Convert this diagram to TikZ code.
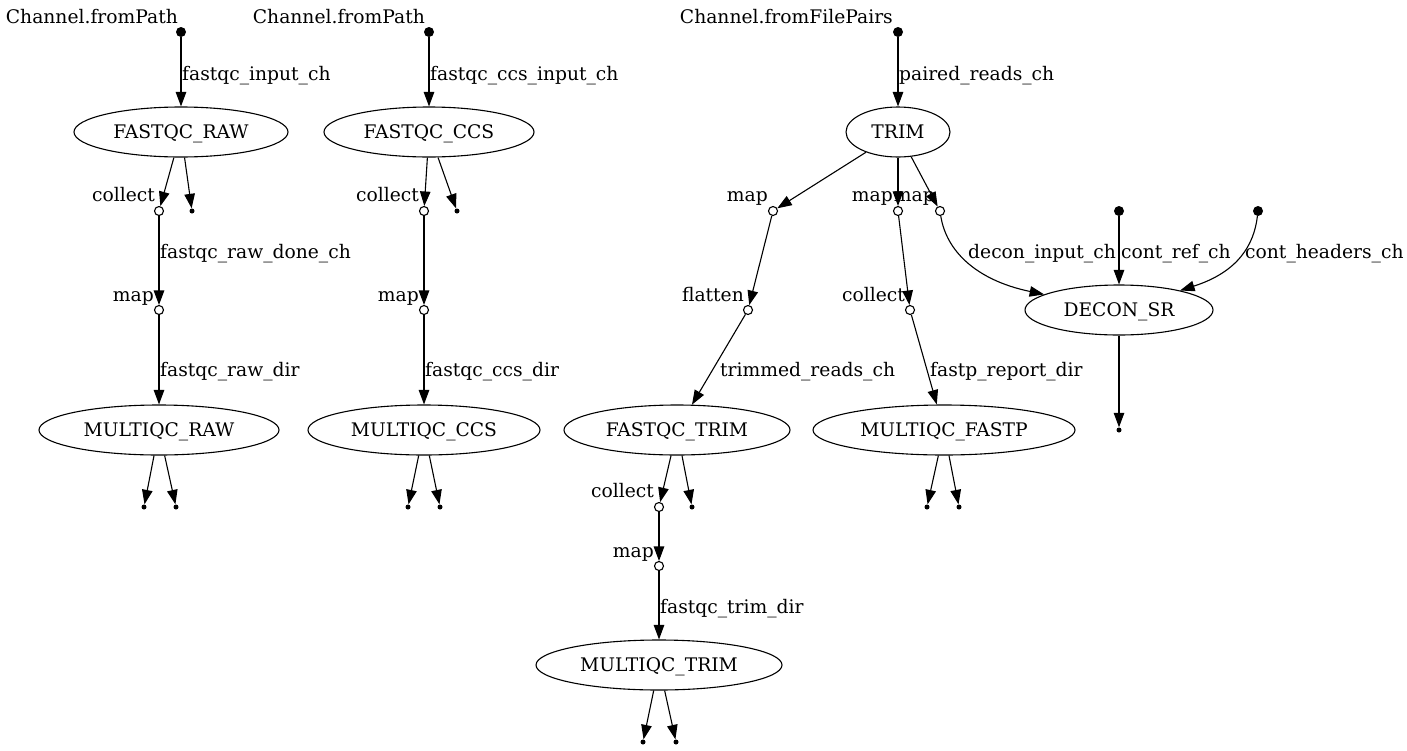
\documentclass[tikz,border=0pt]{standalone}
\usepackage{fontspec}
\setmainfont{DejaVu Serif}
\usetikzlibrary{arrows.meta,shapes.geometric}
\begin{document}
\begin{tikzpicture}[x=1pt,y=-1pt,
  every node/.style={font=\fontsize{18.7}{22}\selectfont},
  proc/.style={draw, ellipse, line width=1.1pt, inner sep=0pt, minimum height=50pt, text height=13.6pt, text depth=0pt},
  srcdot/.style={circle, fill=black, inner sep=0pt, minimum size=10pt},
  opcirc/.style={circle, draw, fill=white, line width=1.1pt, inner sep=0pt, minimum size=9pt},
  enddot/.style={circle, fill=black, inner sep=0pt, minimum size=5pt},
  lbl/.style={inner sep=0pt, anchor=base west},
  xlbl/.style={inner sep=0pt, anchor=base east},
  conn/.style={-{Triangle[length=14.5pt,width=10.5pt]}, line width=1.1pt}
]
\useasboundingbox[fill=white] (0,0) rectangle (1407,750);

% ---------- column 1 ----------
\node[srcdot] (s1) at (181,32) {};
\node[xlbl] (s1l) at (178,23) {Channel.fromPath};
\node[proc, minimum width=214pt] (fqraw) at (181,132) {FASTQC\_RAW};
\node[opcirc] (c1) at (159,211) {};
\node[xlbl] (c1l) at (155,201) {collect};
\node[enddot] (o1) at (192,211) {};
\node[opcirc] (m1) at (159,310) {};
\node[xlbl] (m1l) at (154,301) {map};
\node[proc, minimum width=240pt] (mqraw) at (159,430) {MULTIQC\_RAW};
\node[enddot] (o1a) at (144,507) {};
\node[enddot] (o1b) at (176,507) {};
\node[lbl] (e1) at (182,80) {fastqc\_input\_ch};
\node[lbl] (e2) at (160,258) {fastqc\_raw\_done\_ch};
\node[lbl] (e3) at (160,376) {fastqc\_raw\_dir};
\draw[conn] (s1) -- (fqraw);
\draw[conn] (fqraw) -- (c1);
\draw[conn] (fqraw) -- (o1);
\draw[conn] (c1) -- (m1);
\draw[conn] (m1) -- (mqraw);
\draw[conn] (mqraw) -- (o1a);
\draw[conn] (mqraw) -- (o1b);

% ---------- column 2 ----------
\node[srcdot] (s2) at (429,32) {};
\node[xlbl] (s2l) at (425,23) {Channel.fromPath};
\node[proc, minimum width=210pt] (fqccs) at (429,132) {FASTQC\_CCS};
\node[opcirc] (c2) at (424,211) {};
\node[xlbl] (c2l) at (419,201) {collect};
\node[enddot] (o2) at (457,211) {};
\node[opcirc] (m2) at (424,310) {};
\node[xlbl] (m2l) at (419,301) {map};
\node[proc, minimum width=232pt] (mqccs) at (424,430) {MULTIQC\_CCS};
\node[enddot] (o2a) at (408,507) {};
\node[enddot] (o2b) at (440,507) {};
\node[lbl] (e4) at (430,80) {fastqc\_ccs\_input\_ch};
\node[lbl] (e5) at (425,376) {fastqc\_ccs\_dir};
\draw[conn] (s2) -- (fqccs);
\draw[conn] (fqccs) -- (c2);
\draw[conn] (fqccs) -- (o2);
\draw[conn] (c2) -- (m2);
\draw[conn] (m2) -- (mqccs);
\draw[conn] (mqccs) -- (o2a);
\draw[conn] (mqccs) -- (o2b);

% ---------- column 3 ----------
\node[srcdot] (s3) at (898,32) {};
\node[xlbl] (s3l) at (893,23) {Channel.fromFilePairs};
\node[proc, minimum width=104pt] (trim) at (898,132) {TRIM};
\node[opcirc] (ma) at (773,211) {};
\node[xlbl] (mal) at (768,201) {map};
\node[opcirc] (mb) at (898,211) {};
\node[xlbl] (mbl) at (893,201) {map};
\node[opcirc] (mc) at (940,211) {};
\node[xlbl] (mcl) at (935,201) {map};
\node[srcdot] (ref) at (1119,211) {};
\node[srcdot] (hdr) at (1258,211) {};
\node[opcirc] (fl) at (748,310) {};
\node[xlbl] (fll) at (744,301) {flatten};
\node[opcirc] (c3) at (910,310) {};
\node[xlbl] (c3l) at (905,301) {collect};
\node[proc, minimum width=188pt] (decon) at (1119,310) {DECON\_SR};
\node[enddot] (od) at (1119,430) {};
\node[proc, minimum width=226pt] (fqtrim) at (677,430) {FASTQC\_TRIM};
\node[proc, minimum width=262pt] (mqfastp) at (944,430) {MULTIQC\_FASTP};
\node[opcirc] (c4) at (659,507) {};
\node[xlbl] (c4l) at (654,497) {collect};
\node[enddot] (o4) at (692,507) {};
\node[enddot] (o5a) at (927,507) {};
\node[enddot] (o5b) at (959,507) {};
\node[opcirc] (m4) at (659,566) {};
\node[xlbl] (m4l) at (654,557) {map};
\node[proc, minimum width=246pt] (mqtrim) at (659,665) {MULTIQC\_TRIM};
\node[enddot] (o6a) at (643,742) {};
\node[enddot] (o6b) at (676,742) {};

\node[lbl] (e6) at (899,80) {paired\_reads\_ch};
\node[lbl] (e7) at (968,258) {decon\_input\_ch};
\node[lbl] (e8) at (1121,258) {cont\_ref\_ch};
\node[lbl] (e9) at (1245,258) {cont\_headers\_ch};
\node[lbl] (e10) at (720,376) {trimmed\_reads\_ch};
\node[lbl] (e11) at (930,376) {fastp\_report\_dir};
\node[lbl] (e12) at (660,613) {fastqc\_trim\_dir};

\draw[conn] (s3) -- (trim);
\draw[conn] (trim) -- (ma);
\draw[conn] (trim) -- (mb);
\draw[conn] (trim) -- (mc);
\draw[conn] (ma) -- (fl);
\draw[conn] (mb) -- (c3);
\draw[conn] (mc) .. controls (946,250) and (975,280) .. (decon);
\draw[conn] (ref) -- (decon);
\draw[conn] (hdr) .. controls (1254,245) and (1238,272) .. (decon);
\draw[conn] (decon) -- (od);
\draw[conn] (fl) -- (fqtrim);
\draw[conn] (c3) -- (mqfastp);
\draw[conn] (fqtrim) -- (c4);
\draw[conn] (fqtrim) -- (o4);
\draw[conn] (mqfastp) -- (o5a);
\draw[conn] (mqfastp) -- (o5b);
\draw[conn] (c4) -- (m4);
\draw[conn] (m4) -- (mqtrim);
\draw[conn] (mqtrim) -- (o6a);
\draw[conn] (mqtrim) -- (o6b);
\end{tikzpicture}
\end{document}
